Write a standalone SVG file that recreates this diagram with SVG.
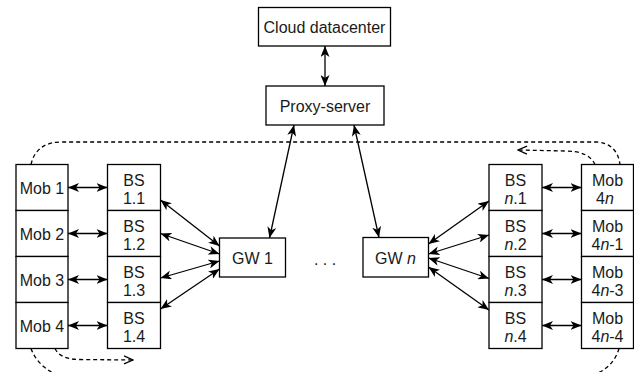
<svg xmlns="http://www.w3.org/2000/svg" width="634" height="372" viewBox="0 0 634 372">
<style>
.box{fill:#fff;stroke:#000;stroke-width:1.3}
.t{font-family:"Liberation Sans",Arial,sans-serif;font-size:16px;fill:#1a1a1a;text-anchor:middle}
.i{font-style:italic}
.c{fill:none;stroke:#000;stroke-width:1.3}
.solid{marker-start:url(#ah);marker-end:url(#ah)}
.d{fill:none;stroke:#000;stroke-width:1.3;stroke-dasharray:4 3}
</style>
<defs>
<marker id="ah" markerUnits="userSpaceOnUse" viewBox="0 0 11 9" refX="11" refY="4.5" markerWidth="11" markerHeight="9" orient="auto-start-reverse">
<path d="M11,4.5 L0,0 L3,4.5 L0,9 Z" fill="#000"/>
</marker>
<marker id="oa" markerUnits="userSpaceOnUse" viewBox="0 0 11 11" refX="10" refY="5.5" markerWidth="11" markerHeight="11" orient="auto">
<path d="M1,1.5 L10,5.5 L1,9.5" fill="none" stroke="#000" stroke-width="1.3"/>
</marker>
</defs>
<rect width="634" height="372" fill="#fff"/>
<g id="connectors">
<path class="c solid" d="M325,46 L325,86"/>
<path class="c solid" d="M294,125 L269.5,238"/>
<path class="c solid" d="M354,125 L379,237.5"/>
<path class="c solid" d="M68,187.5 L107.5,187.5"/>
<path class="c solid" d="M68,233.5 L107.5,233.5"/>
<path class="c solid" d="M68,279.5 L107.5,279.5"/>
<path class="c solid" d="M68,325.5 L107.5,325.5"/>
<path class="c solid" d="M542,187.5 L581.5,187.5"/>
<path class="c solid" d="M542,233.5 L581.5,233.5"/>
<path class="c solid" d="M542,279.5 L581.5,279.5"/>
<path class="c solid" d="M542,325.5 L581.5,325.5"/>
<path class="c solid" d="M160.5,200 L219.5,246"/>
<path class="c solid" d="M160.5,233.5 L219.5,254"/>
<path class="c solid" d="M160.5,278 L219.5,261"/>
<path class="c solid" d="M160.5,309 L219.5,269"/>
<path class="c solid" d="M428.5,244 L489,201"/>
<path class="c solid" d="M428.5,254 L489,235"/>
<path class="c solid" d="M428.5,258 L489,278.5"/>
<path class="c solid" d="M428.5,267 L489,310"/>
<path class="d" d="M31,164.5 Q36,142 62,142 L596,142 Q617,143 620,164.5"/>
<path class="d" d="M595,164.5 Q589,151 565,151 L518,150" marker-end="url(#oa)"/>
<path class="d" d="M31,348.5 Q37,365 55,374"/>
<path class="d" d="M55,348.5 Q60,359.5 80,359.5 L133,360" marker-end="url(#oa)"/>
<path class="d" d="M619,348.5 Q614,366 596,374"/>
</g>
<g id="cloud"><rect class="box" x="258.5" y="7.5" width="132" height="38.5"/><text class="t" x="324.5" y="33.3">Cloud datacenter</text></g>
<g id="proxy"><rect class="box" x="266" y="86" width="118" height="39"/><text class="t" x="325" y="112">Proxy-server</text></g>
<g id="gw1"><rect class="box" x="219.5" y="238" width="66" height="39"/><text class="t" x="252.5" y="264">GW 1</text></g>
<g id="gwn"><rect class="box" x="363" y="237.5" width="65.5" height="39.5"/><text class="t" x="395.5" y="263.5">GW <tspan class="i">n</tspan></text></g>
<g id="dots"><text class="t" x="325" y="265">. . .</text></g>
<g id="mob1"><rect class="box" x="16" y="164.5" width="52" height="46"/><text class="t" x="42" y="194">Mob 1</text></g>
<g id="mob2"><rect class="box" x="16" y="210.5" width="52" height="46"/><text class="t" x="42" y="240">Mob 2</text></g>
<g id="mob3"><rect class="box" x="16" y="256.5" width="52" height="46"/><text class="t" x="42" y="286">Mob 3</text></g>
<g id="mob4"><rect class="box" x="16" y="302.5" width="52" height="46"/><text class="t" x="42" y="332">Mob 4</text></g>
<g id="bs11"><rect class="box" x="107.5" y="164.5" width="53" height="46"/><text class="t" x="134" y="185.5">BS</text><text class="t" x="134" y="203.5">1.1</text></g>
<g id="bs12"><rect class="box" x="107.5" y="210.5" width="53" height="46"/><text class="t" x="134" y="231.5">BS</text><text class="t" x="134" y="249.5">1.2</text></g>
<g id="bs13"><rect class="box" x="107.5" y="256.5" width="53" height="46"/><text class="t" x="134" y="277.5">BS</text><text class="t" x="134" y="295.5">1.3</text></g>
<g id="bs14"><rect class="box" x="107.5" y="302.5" width="53" height="46"/><text class="t" x="134" y="323.5">BS</text><text class="t" x="134" y="341.5">1.4</text></g>
<g id="bsn1"><rect class="box" x="489" y="164.5" width="53" height="46"/><text class="t" x="515.5" y="185.5">BS</text><text class="t" x="515.5" y="203.5"><tspan class="i">n</tspan>.1</text></g>
<g id="bsn2"><rect class="box" x="489" y="210.5" width="53" height="46"/><text class="t" x="515.5" y="231.5">BS</text><text class="t" x="515.5" y="249.5"><tspan class="i">n</tspan>.2</text></g>
<g id="bsn3"><rect class="box" x="489" y="256.5" width="53" height="46"/><text class="t" x="515.5" y="277.5">BS</text><text class="t" x="515.5" y="295.5"><tspan class="i">n</tspan>.3</text></g>
<g id="bsn4"><rect class="box" x="489" y="302.5" width="53" height="46"/><text class="t" x="515.5" y="323.5">BS</text><text class="t" x="515.5" y="341.5"><tspan class="i">n</tspan>.4</text></g>
<g id="mob4n"><rect class="box" x="581.5" y="164.5" width="52" height="46"/><text class="t" x="607.5" y="185.5">Mob</text><text class="t" x="605" y="203.5">4<tspan class="i">n</tspan></text></g>
<g id="mob4n1"><rect class="box" x="581.5" y="210.5" width="52" height="46"/><text class="t" x="607.5" y="231.5">Mob</text><text class="t" x="607.5" y="249.5">4<tspan class="i">n</tspan>-1</text></g>
<g id="mob4n3"><rect class="box" x="581.5" y="256.5" width="52" height="46"/><text class="t" x="607.5" y="277.5">Mob</text><text class="t" x="607.5" y="295.5">4<tspan class="i">n</tspan>-3</text></g>
<g id="mob4n4"><rect class="box" x="581.5" y="302.5" width="52" height="46"/><text class="t" x="607.5" y="323.5">Mob</text><text class="t" x="607.5" y="341.5">4<tspan class="i">n</tspan>-4</text></g>
</svg>
